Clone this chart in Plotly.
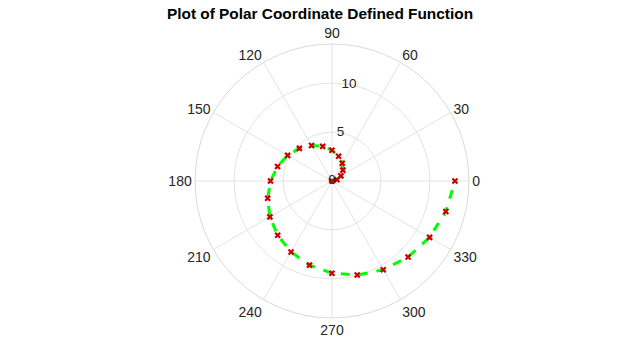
import numpy as np
import plotly.graph_objects as go

# Data: 25 samples of the spiral r = 2*theta, theta in degrees 0..360 step 15
theta_deg = [0, 15, 30, 45, 60, 75, 90, 105, 120, 135, 150, 165, 180,
             195, 210, 225, 240, 255, 270, 285, 300, 315, 330, 345, 360]
r_vals = [2 * np.deg2rad(t) for t in theta_deg]

angular_ticks = [0, 30, 60, 90, 120, 150, 180, 210, 240, 270, 300, 330]
radial_ticks = [0, 5, 10]
radial_label_angle = 80
title_text = "Plot of Polar Coordinate Defined Function"

fig = go.Figure()
fig.add_trace(go.Scatterpolar(
    r=r_vals, theta=theta_deg, mode="lines",
    line=dict(color="#00ff00", width=3, dash="dash"),
    showlegend=False, hoverinfo="skip"))
fig.add_trace(go.Scatterpolar(
    r=r_vals, theta=theta_deg, mode="markers",
    marker=dict(symbol="x-thin", size=5, color="#cc0000",
                line=dict(color="#cc0000", width=2.2)),
    showlegend=False))
# radial tick labels, drawn upright on the 80-degree line
fig.add_trace(go.Scatterpolar(
    r=radial_ticks, theta=[radial_label_angle] * len(radial_ticks),
    mode="text", text=[str(t) for t in radial_ticks],
    textposition="middle center",
    textfont=dict(size=13.5, color="#262626",
                  family="Liberation Sans, Arial, sans-serif"),
    showlegend=False, hoverinfo="skip", cliponaxis=False))

fig.update_layout(
    width=640, height=360,
    paper_bgcolor="white",
    margin=dict(l=0, r=0, t=0, b=0),
    font=dict(family="Liberation Sans, Arial, sans-serif", size=14, color="#262626"),
    title=dict(text="<b>" + title_text + "</b>", x=0.5, xanchor="center",
               y=0.963, yanchor="middle", font=dict(size=15.4, color="black")),
    polar=dict(
        domain=dict(x=[0.3047, 0.7328], y=[0.1167, 0.8778]),
        bgcolor="white",
        angularaxis=dict(
            rotation=0, direction="counterclockwise",
            tickmode="array", tickvals=angular_ticks,
            ticktext=[str(t) for t in angular_ticks],
            showgrid=True, gridcolor="#e3e3e3", gridwidth=1,
            showline=True, linecolor="#d9d9d9", linewidth=1,
            ticks="", tickfont=dict(size=14, color="#262626"),
        ),
        radialaxis=dict(
            range=[0, 14], angle=radial_label_angle,
            tickmode="array", tickvals=radial_ticks,
            showticklabels=False,
            showgrid=True, gridcolor="#e3e3e3", gridwidth=1,
            showline=False, ticks="",
        ),
    ),
)

fig.write_html("out.html",
               config={"displayModeBar": False},
               post_script="document.body.style.margin='0';")
